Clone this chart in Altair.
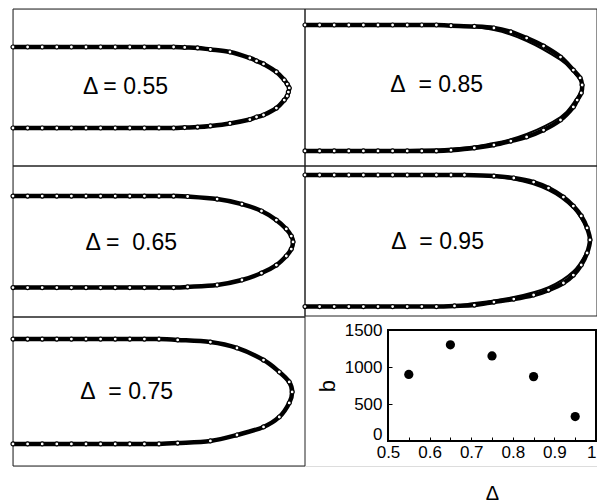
import altair as alt
import pandas as pd

# ---------------- data ----------------
# Finger profiles, panel units: x 0..100 across the panel, y 0..100 bottom->top
# path runs along the upper branch to the tip, then back along the lower branch
labels = ["\u0394 = 0.55", "\u0394\u00a0 = 0.85", "\u0394 =\u00a0 0.65", "\u0394\u00a0 = 0.95", "\u0394\u00a0 = 0.75"]

# measured profiles (open circles)
x055 = [0, 5, 10, 15, 20, 25, 30, 35, 40, 45, 50, 55, 58.8, 63.2, 67.6, 74.3, 81.1, 83.4, 85.8, 90.2, 92.9, 93.9, 94.6,
        94.3, 93.9, 92.9, 90.2, 85.8, 83.4, 81.1, 74.3, 67.6, 63.2, 58.8, 55, 50, 45, 40, 35, 30, 25, 20, 15, 10, 5, 0]
y055 = [75.8, 75.8, 75.8, 75.8, 75.8, 75.8, 75.8, 75.8, 75.8, 75.8, 75.8, 75.8, 75.5, 75.2, 74.2, 72.6, 68.8, 66.9, 65.0, 59.9, 54.8, 52.2, 49.7,
        47.1, 44.6, 42.0, 36.9, 32.5, 31.2, 29.6, 27.1, 25.5, 24.8, 24.5, 24.2, 24.2, 24.2, 24.2, 24.2, 24.2, 24.2, 24.2, 24.2, 24.2, 24.2, 24.2]

x085 = [0, 5, 10, 15, 20, 25, 30, 35, 40, 45, 50, 58.0, 64.7, 70.5, 75.9, 81.7, 87.5, 91.9, 94.2, 94.9,
        94.6, 93.2, 91.9, 87.5, 81.7, 75.9, 70.5, 64.7, 58.0, 50, 45, 40, 35, 30, 25, 20, 15, 10, 5, 0]
y085 = [89.8, 89.8, 89.8, 89.8, 89.8, 89.8, 89.8, 89.8, 89.8, 89.8, 89.4, 88.9, 87.9, 85.4, 81.5, 76.4, 69.4, 61.1, 56.1, 51.6,
        46.5, 42.0, 37.6, 29.3, 22.9, 18.5, 15.9, 13.4, 11.5, 10.1, 9.6, 9.6, 9.6, 9.6, 9.6, 9.6, 9.6, 9.6, 9.6, 9.6]

x065 = [0, 5, 10, 15, 20, 25, 30, 35, 40, 45, 50, 55, 59.8, 69.9, 78.4, 85.1, 90.2, 93.6, 95.3, 95.9,
        95.3, 93.6, 90.2, 85.1, 78.4, 69.9, 59.8, 55, 50, 45, 40, 35, 30, 25, 20, 15, 10, 5, 0]
y065 = [80.1, 80.1, 80.1, 80.1, 80.1, 80.1, 80.1, 80.1, 80.1, 80.1, 80.1, 80.1, 79.8, 78.1, 74.8, 70.2, 64.2, 58.3, 53.6, 49.7,
        45.0, 40.4, 34.4, 29.1, 24.5, 21.2, 19.9, 19.5, 19.5, 19.5, 19.5, 19.5, 19.5, 19.5, 19.5, 19.5, 19.5, 19.5, 19.5]

x095 = [0, 5, 10, 15, 20, 25, 30, 35, 40, 45, 50, 54.6, 64.7, 71.5, 78.3, 83.4, 88.5, 91.9, 94.6, 96.6, 97.6,
        96.6, 94.6, 91.9, 88.5, 83.4, 78.3, 71.5, 64.7, 58.0, 51.2, 45, 40, 35, 30, 25, 20, 15, 10, 5, 0]
y095 = [94.0, 94.0, 94.0, 94.0, 94.0, 94.0, 94.0, 94.0, 94.0, 94.0, 94.0, 94.0, 93.3, 92.0, 89.3, 85.3, 79.3, 73.3, 66.7, 58.7, 50.7,
        42.0, 34.0, 27.3, 22.0, 17.3, 14.0, 11.3, 9.3, 7.3, 6.7, 6.3, 6.3, 6.3, 6.3, 6.3, 6.3, 6.3, 6.3, 6.3, 6.3]

x075 = [0, 5, 10, 15, 20, 25, 30, 35, 40, 45, 50, 56.4, 67.6, 76.7, 85.8, 91.2, 94.6, 95.6,
        94.6, 91.2, 85.8, 76.7, 67.6, 56.4, 50, 45, 40, 35, 30, 25, 20, 15, 10, 5, 0]
y075 = [85.2, 85.2, 85.2, 85.2, 85.2, 85.2, 85.2, 85.2, 85.2, 85.2, 85.2, 84.6, 83.2, 79.2, 71.1, 63.1, 56.4, 49.7,
        42.3, 32.9, 26.2, 20.8, 16.8, 15.4, 14.8, 14.8, 14.8, 14.8, 14.8, 14.8, 14.8, 14.8, 14.8, 14.8, 14.8]

# fitted profiles that visibly leave the circles (solid line)
fx085 = [0, 47.8, 64.7, 75.9, 87.5, 91.9, 94.9, 91.9, 87.5, 75.9, 64.7, 47.8, 0]
fy085 = [89.8, 89.2, 86.6, 79.6, 67.5, 59.9, 51.0, 40.1, 31.2, 20.4, 14.6, 10.8, 9.6]
fx095 = [0, 54.6, 71.5, 83.4, 91.9, 96.6, 97.3, 96.6, 91.9, 83.4, 71.5, 58.0, 45, 0]
fy095 = [94.0, 93.6, 91.0, 83.8, 71.8, 57.8, 50.7, 43.4, 29.8, 19.2, 12.6, 8.6, 6.6, 6.3]

# b versus Delta
delta = [0.55, 0.65, 0.75, 0.85, 0.95]
b_val = [900, 1300, 1150, 870, 330]
x_label_ticks = [0.5, 0.6, 0.7, 0.8, 0.9, 1.0]
x_minor_ticks = [0.5, 0.55, 0.6, 0.65, 0.7, 0.75, 0.8, 0.85, 0.9, 0.95]
y_ticks = [0, 500, 1000, 1500]

# ---------------- layout (pixels inside the view) ----------------
FONT = "Liberation Sans"
W, H = 584, 457
panel_ranges = [
    ([0, 292], [157, 0]),      # 0.55
    ([292, 584], [157, 0]),    # 0.85
    ([0, 292], [308, 157]),    # 0.65
    ([292, 584], [307, 157]),  # 0.95
    ([0, 292], [457, 308]),    # 0.75
]
label_anchor = [(38.5, 50.3), (45.1, 51.6), (40.5, 49.0), (45.4, 49.3), (38.9, 49.7)]
SC_X = [375, 583]
SC_Y = [432, 321]


def panel(xs, ys, label, anchor, xr, yr, fit=None):
    prof = pd.DataFrame({"x": xs, "y": ys, "i": list(range(len(xs)))})
    sx = alt.Scale(domain=[0, 100], range=xr, nice=False, zero=False)
    sy = alt.Scale(domain=[0, 100], range=yr, nice=False, zero=False)
    X = alt.X("x:Q", scale=sx, axis=None)
    Y = alt.Y("y:Q", scale=sy, axis=None)
    border = alt.Chart(pd.DataFrame({"a": [0], "b": [100]})).mark_rect(
        fillOpacity=0, stroke="#222", strokeWidth=1
    ).encode(
        x=alt.X("a:Q", scale=sx, axis=None), x2="b:Q",
        y=alt.Y("a:Q", scale=sy, axis=None), y2="b:Q",
    )
    band = alt.Chart(prof).mark_line(color="black", strokeWidth=4.5, interpolate="cardinal").encode(
        x=X, y=Y, order="i:Q",
    )
    layers = [border, band]
    if fit is not None:
        fdf = pd.DataFrame({"x": fit[0], "y": fit[1], "i": list(range(len(fit[0])))})
        layers.append(
            alt.Chart(fdf).mark_line(color="black", strokeWidth=2, interpolate="cardinal").encode(
                x=X, y=Y, order="i:Q",
            )
        )
    pts = alt.Chart(prof).mark_point(
        shape="circle", filled=True, fill="white", stroke="black", strokeWidth=1.2, size=16, opacity=1
    ).encode(x=X, y=Y)
    txt = alt.Chart(pd.DataFrame({"x": [anchor[0]], "y": [anchor[1]], "t": [label]})).mark_text(
        font=FONT, fontSize=23, color="black", align="center", baseline="middle"
    ).encode(x=X, y=Y, text="t:N")
    layers += [pts, txt]
    return alt.layer(*layers)


profiles = [(x055, y055), (x085, y085), (x065, y065), (x095, y095), (x075, y075)]
fits = [None, (fx085, fy085), None, (fx095, fy095), None]
panels = [
    panel(px, py, lab, anc, xr, yr, ft)
    for (px, py), lab, anc, (xr, yr), ft in zip(profiles, labels, label_anchor, panel_ranges, fits)
]

# scatter panel
sxs = alt.Scale(domain=[0.5, 1.0], range=SC_X, nice=False, zero=False)
sys_ = alt.Scale(domain=[0, 1500], range=SC_Y, nice=False, zero=False)
sdf = pd.DataFrame({"d": delta, "b": b_val})

box = alt.Chart(pd.DataFrame({"x0": [0.5], "x1": [1.0], "y0": [0], "y1": [1500]})).mark_rect(
    fillOpacity=0, stroke="black", strokeWidth=2
).encode(
    x=alt.X("x0:Q", scale=sxs, axis=None), x2="x1:Q",
    y=alt.Y("y0:Q", scale=sys_, axis=None), y2="y1:Q",
)
dots = alt.Chart(sdf).mark_circle(size=85, color="black", opacity=1).encode(
    x=alt.X("d:Q", scale=sxs, axis=alt.Axis(
        orient="bottom", offset=-(H - SC_Y[0]), values=x_label_ticks,
        labelExpr="datum.value == 1 ? '1' : format(datum.value, '.1f')",
        labelAlign={"condition": {"test": "datum.value == 1", "value": "right"}, "value": "center"},
        labelFlush=False, ticks=False, domain=False, grid=False,
        labelFontSize=17, labelPadding=3, labelColor="black", labelFont=FONT,
        title="\u0394", titleFontSize=20, titleFontWeight="normal", titlePadding=23, titleColor="black", titleFont=FONT)),
    y=alt.Y("b:Q", scale=sys_, axis=alt.Axis(
        orient="left", offset=-SC_X[0], values=y_ticks, format="d", ticks=False, domain=False, grid=False,
        labelOffset={"condition": {"test": "datum.value == 0", "value": -7}, "value": 0},
        labelFontSize=17, labelPadding=6, labelColor="black", labelFont=FONT,
        title="b", titleFontSize=22, titleFontWeight="normal", titlePadding=5, titleColor="black", titleFont=FONT)),
)
tickl = alt.Chart(sdf).mark_point(opacity=0).encode(
    x=alt.X("d:Q", scale=sxs, axis=alt.Axis(
        orient="top", offset=-SC_Y[0], values=x_minor_ticks, labels=False, domain=False, grid=False,
        ticks=True, tickSize=4, tickColor="black", tickWidth=1, title="")),
    y=alt.Y("b:Q", scale=sys_, axis=alt.Axis(
        orient="right", offset=-(W - SC_X[0]), values=y_ticks, labels=False, domain=False, grid=False,
        ticks=True, tickSize=4, tickColor="black", tickWidth=1, title="")),
)
scatter = alt.layer(box, tickl, dots).resolve_axis(x="independent", y="independent")

chart = alt.layer(*panels, scatter).resolve_scale(
    x="independent", y="independent"
).properties(
    width=W, height=H,
    autosize=alt.AutoSizeParams(type="none"),
    padding={"left": 5, "top": 1, "right": 0, "bottom": 36},
).configure_view(stroke=None).configure(font=FONT)

chart.save("out.html", embed_options={"renderer": "svg", "actions": False})
